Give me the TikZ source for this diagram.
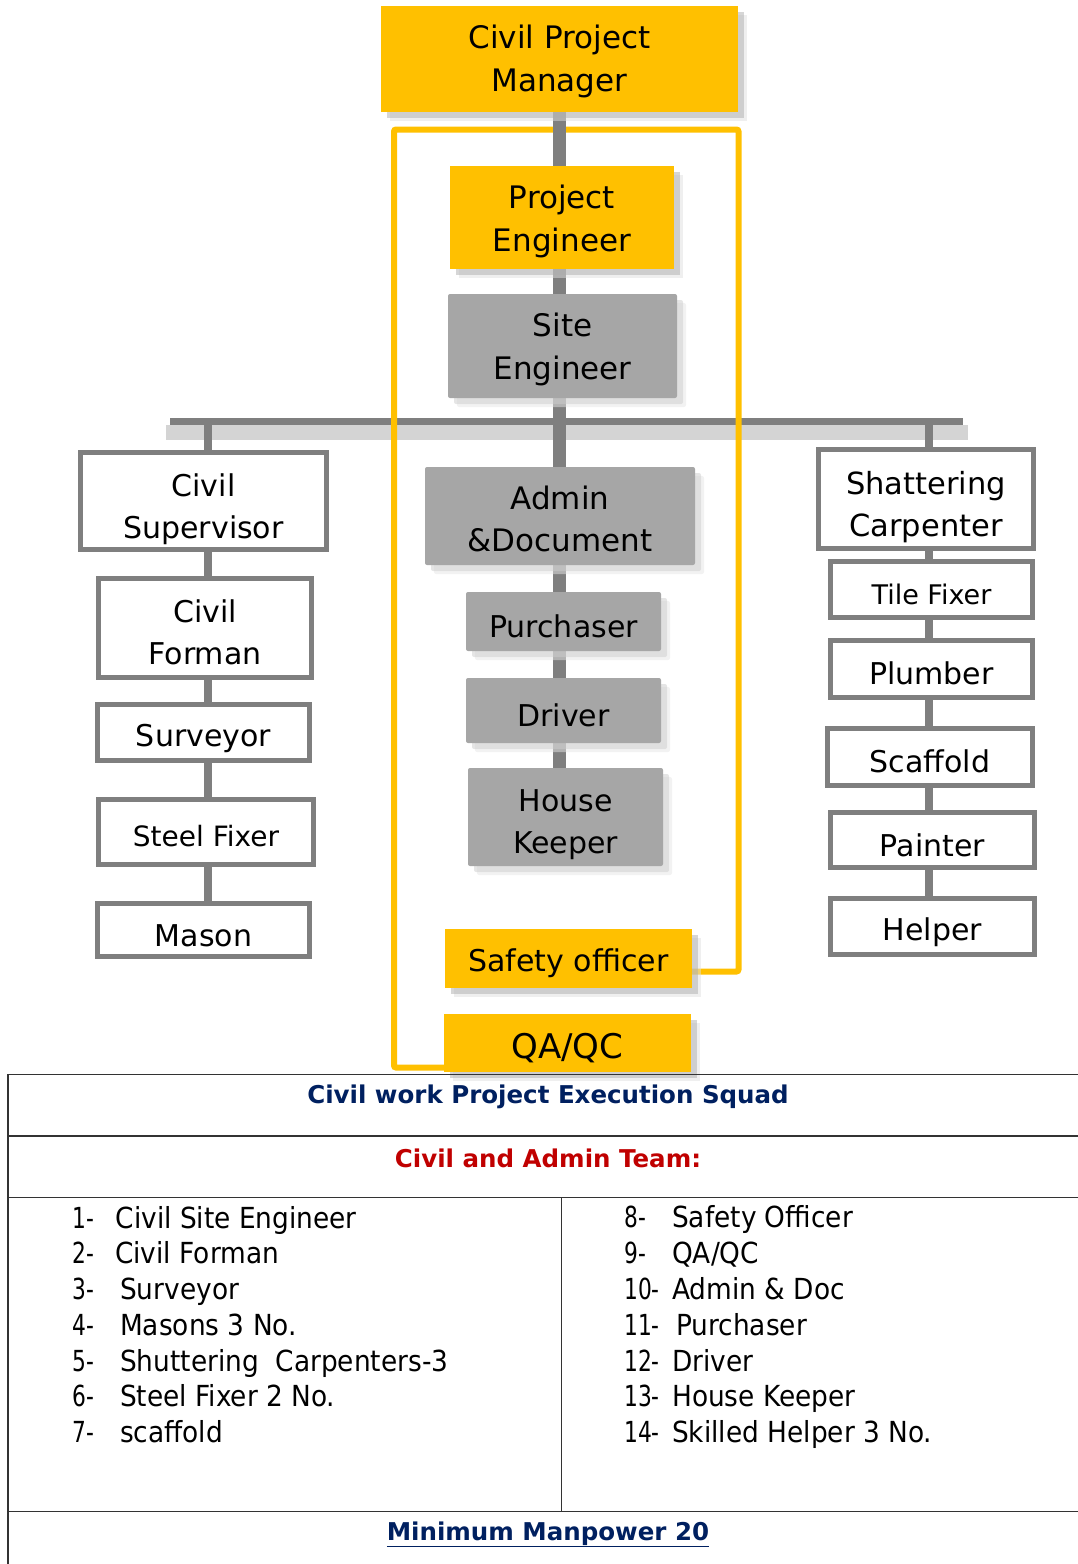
\documentclass[tikz,border=0pt]{standalone}
\usepackage{fontspec}
\setmainfont{DejaVu Sans}
\newfontfamily\listfont[FakeStretch=0.91]{DejaVu Sans}
\newfontfamily\numfont[FakeStretch=0.75]{DejaVu Sans}
\newcommand{\listno}[2]{\makebox[#1][l]{\numfont #2}}
\usetikzlibrary{positioning}
\usetikzlibrary{shadows}
\usetikzlibrary{backgrounds}
\definecolor{ochre}{HTML}{FFC000}
\definecolor{midgrey}{HTML}{A6A6A6}
\definecolor{linegrey}{HTML}{7F7F7F}
\definecolor{navyblue}{HTML}{002060}
\definecolor{darkred}{HTML}{C00000}
\tikzset{
    textdrop/.style={
        execute at begin node={\rule{0pt}{\dimexpr0.76em+#1*2\relax}}
    },
    textdroptwo/.style={
        execute at begin node={\rule{0pt}{\dimexpr0.76em+\baselineskip+#1*2\relax}}
    },
    post/.style={
        rectangle,
        inner sep=0pt,
        align=center,
        font=\fontsize{30}{42}\selectfont,
        textdrop=4.5pt
    },
    yellowpost/.style={
        post,
        fill=ochre,
        drop shadow={shadow xshift=9pt, shadow yshift=-9pt, fill=black!12},
        drop shadow={shadow xshift=6pt, shadow yshift=-6pt, fill=black!32}
    },
    greypost/.style={
        post,
        fill=midgrey,
        rounded corners=2pt,
        drop shadow={shadow xshift=9pt, shadow yshift=-9pt, fill=black!10},
        drop shadow={shadow xshift=6pt, shadow yshift=-6pt, fill=black!20}
    },
    whitepost/.style={
        post,
        fill=white,
        draw=linegrey,
        line width=5pt
    }
}
\tikzset{trunk/.style={draw=linegrey, line width=13pt}}
\tikzset{link/.style={draw=linegrey, line width=8pt}}
\tikzset{teamframe/.style={draw=ochre, line width=6pt, rounded corners=2pt}}

\begin{document}
\begin{tikzpicture}[
    x=1pt, y=-1pt,
    tablerule/.style={draw=black!80, line width=1.5pt},
    tablehead/.style={anchor=base, inner sep=0pt, font=\fontsize{24.5}{30}\selectfont\bfseries},
    listitem/.style={anchor=base west, inner sep=0pt, font=\listfont\fontsize{29}{36}\selectfont}
]
\useasboundingbox (0,0) rectangle (1078,1564);

% 1. Management and the middle column
\node[yellowpost, minimum width=357pt, minimum height=106pt, font=\fontsize{31}{43}\selectfont, textdroptwo=2pt] (cpm) at (559.5,59) {Civil Project\\Manager};
\node[yellowpost, minimum width=224pt, minimum height=103pt, font=\fontsize{31}{43}\selectfont, textdroptwo=4pt] (pe) at (562,217.5) {Project\\Engineer};
\node[greypost, minimum width=229pt, minimum height=104pt, font=\fontsize{31}{43}\selectfont, textdroptwo=3pt] (se) at (562.5,346) {Site\\Engineer};
\node[greypost, minimum width=270pt, minimum height=98pt, font=\fontsize{31}{42}\selectfont, textdroptwo=3pt] (admin) at (560,516) {Admin\\\&Document};
\node[greypost, minimum width=195pt, minimum height=59pt, textdrop=2pt] (purch) at (563.5,621.5) {Purchaser};
\node[greypost, minimum width=195pt, minimum height=65pt, textdrop=-5pt] (driver) at (563.5,710.5) {Driver};
\node[greypost, minimum width=195pt, minimum height=98pt, textdroptwo=7pt] (keeper) at (565.5,817) {House\\Keeper};
\node[yellowpost, minimum width=247pt, minimum height=59pt, textdrop=5pt] (safety) at (568.5,958.5) {Safety officer};
\node[yellowpost, minimum width=247pt, minimum height=58pt, font=\fontsize{34}{42}\selectfont, textdrop=5pt] (qaqc) at (567.5,1043) {QA/QC};

% 2. Left column
\node[whitepost, minimum width=246pt, minimum height=97pt, textdroptwo=8pt] (csup) at (203.5,501) {Civil\\Supervisor};
\node[whitepost, minimum width=213pt, minimum height=99pt, textdroptwo=4pt] (cfor) at (205,628) {Civil\\Forman};
\node[whitepost, minimum width=212pt, minimum height=56pt, textdrop=6pt] (surv) at (203.5,732.5) {Surveyor};
\node[whitepost, minimum width=215pt, minimum height=65pt, font=\fontsize{28}{42}\selectfont, textdrop=-5pt] (stfx) at (206,832) {Steel Fixer};
\node[whitepost, minimum width=212pt, minimum height=53pt, textdrop=5pt] (mason) at (203.5,930) {Mason};

% 3. Right column
\node[whitepost, minimum width=215pt, minimum height=99pt, font=\fontsize{30.5}{42}\selectfont, textdroptwo=8pt] (shatt) at (926,499) {Shattering\\Carpenter};
\node[whitepost, minimum width=202pt, minimum height=56pt, font=\fontsize{27}{42}\selectfont, textdrop=3pt] (tile) at (931.5,589.5) {Tile Fixer};
\node[whitepost, minimum width=202pt, minimum height=57pt, textdrop=3pt] (plumb) at (931.5,669) {Plumber};
\node[whitepost, minimum width=205pt, minimum height=57pt, textdrop=3pt] (scaff) at (930,757) {Scaffold};
\node[whitepost, minimum width=204pt, minimum height=55pt, textdrop=5pt] (paint) at (932.5,840) {Painter};
\node[whitepost, minimum width=204pt, minimum height=56pt, textdrop=6pt] (helper) at (932.5,926) {Helper};

% 4. Connections (behind the boxes)
\coordinate (barL) at (170,421.5);
\coordinate (barR) at (963,421.5);
\coordinate (ljoin) at (207.5,421.5);
\coordinate (rjoin) at (929,421.5);
\coordinate (ftl) at (394,129.5);
\coordinate (ftr) at (738.5,129.5);
\begin{scope}[on background layer]
\fill[black!17] (166,425) rectangle (968,440);
\draw[linegrey, line width=7pt] (barL) -- (barR);
\draw[teamframe] ([yshift=-13pt]safety.east) -| (ftr) -- (ftl) |- ([yshift=-24.5pt]qaqc.west);
\draw[trunk] (cpm.south) -- (cpm.south |- pe.north);
\draw[trunk] (cpm.south |- pe.south) -- (cpm.south |- se.north);
\draw[trunk] (cpm.south |- se.south) -- (cpm.south |- admin.north);
\draw[trunk] (cpm.south |- admin.south) -- (cpm.south |- purch.north);
\draw[trunk] (cpm.south |- purch.south) -- (cpm.south |- driver.north);
\draw[trunk] (cpm.south |- driver.south) -- (cpm.south |- keeper.north);
\draw[link] (ljoin) -- (ljoin |- csup.north);
\draw[link] (ljoin |- csup.south) -- (ljoin |- cfor.north);
\draw[link] (ljoin |- cfor.south) -- (ljoin |- surv.north);
\draw[link] (ljoin |- surv.south) -- (ljoin |- stfx.north);
\draw[link] (ljoin |- stfx.south) -- (ljoin |- mason.north);
\draw[link] (rjoin) -- (rjoin |- shatt.north);
\draw[link] (rjoin |- shatt.south) -- (rjoin |- tile.north);
\draw[link] (rjoin |- tile.south) -- (rjoin |- plumb.north);
\draw[link] (rjoin |- plumb.south) -- (rjoin |- scaff.north);
\draw[link] (rjoin |- scaff.south) -- (rjoin |- paint.north);
\draw[link] (rjoin |- paint.south) -- (rjoin |- helper.north);
\end{scope}

% 5. Squad table
\draw[tablerule] (8,1564) -- (8,1074.5) -- (1078,1074.5);
\draw[tablerule] (8,1136) -- (1078,1136);
\draw[tablerule] (8,1197.5) -- (1078,1197.5);
\draw[tablerule] (8,1511.5) -- (1078,1511.5);
\draw[black!80, line width=1pt] (561,1197.5) -- (561,1511.5);

\node[tablehead, text=navyblue] (squad) at (548,1103) {Civil work Project Execution Squad};
\node[tablehead, text=darkred] (team) at (548,1167) {Civil and Admin Team:};

\node[listitem] (l1) at (72,1228) {\listno{43.5pt}{1-}Civil Site Engineer};
\node[listitem] (l2) at (72,1263.5) {\listno{43pt}{2-}Civil Forman};
\node[listitem] (l3) at (72,1299) {\listno{48pt}{3-}Surveyor};
\node[listitem] (l4) at (72,1335) {\listno{48pt}{4-}Masons 3 No.};
\node[listitem] (l5) at (72,1371) {\listno{48pt}{5-}Shuttering~ Carpenters-3};
\node[listitem] (l6) at (72,1406.5) {\listno{48pt}{6-}Steel Fixer 2 No.};
\node[listitem] (l7) at (72,1442) {\listno{48pt}{7-}scaffold};

\node[listitem] (r1) at (624,1227) {\listno{48pt}{8-}Safety Officer};
\node[listitem] (r2) at (624,1263) {\listno{48pt}{9-}QA/QC};
\node[listitem] (r3) at (624,1299) {\listno{48pt}{10-}Admin \& Doc};
\node[listitem] (r4) at (624,1335) {\listno{52pt}{11-}Purchaser};
\node[listitem] (r5) at (624,1371) {\listno{48pt}{12-}Driver};
\node[listitem] (r6) at (624,1406.5) {\listno{48pt}{13-}House Keeper};
\node[listitem] (r7) at (624,1442) {\listno{48pt}{14-}Skilled Helper 3 No.};

\node[tablehead, text=navyblue] (manpower) at (548,1540) {\underline{Minimum Manpower 20}};

\end{tikzpicture}
\end{document}
